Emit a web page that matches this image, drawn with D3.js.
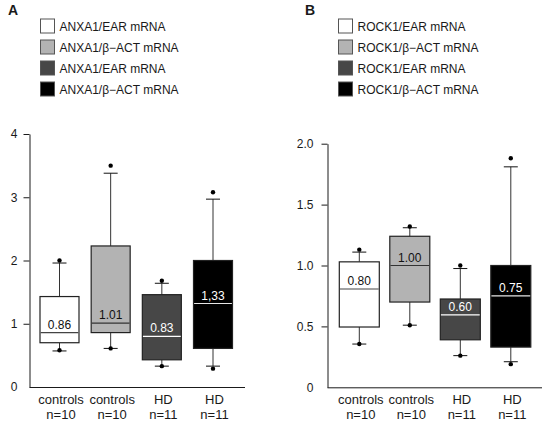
<!DOCTYPE html>
<html>
<head>
<meta charset="utf-8">
<script src="https://cdn.jsdelivr.net/npm/d3@7"></script>
<style>
html,body{margin:0;padding:0;background:#fff;}
svg{display:block;font-family:"Liberation Sans",Arial,sans-serif;}
</style>
</head>
<body>
<svg id="chart" width="550" height="421"></svg>
<script>
// ---- data ----
const categories = ["controls", "controls", "HD", "HD"];
const nLabels = ["n=10", "n=10", "n=11", "n=11"];
const fills = ["#ffffff", "#b3b3b3", "#474747", "#000000"];
const medianColors = ["#444444", "#333333", "#ffffff", "#e6e6e6"];
const labelColors = ["#111111", "#111111", "#ffffff", "#ffffff"];

const legendA = ["ANXA1/EAR mRNA", "ANXA1/\u03b2\u2212ACT mRNA", "ANXA1/EAR mRNA", "ANXA1/\u03b2\u2212ACT mRNA"];
const legendB = ["ROCK1/EAR mRNA", "ROCK1/\u03b2\u2212ACT mRNA", "ROCK1/EAR mRNA", "ROCK1/\u03b2\u2212ACT mRNA"];

const ticksA = [0, 1, 2, 3, 4];
const tickLabelsA = ["0", "1", "2", "3", "4"];
const ticksB = [0, 0.5, 1.0, 1.5, 2.0];
const tickLabelsB = ["0", "0.5", "1.0", "1.5", "2.0"];

const A_whiskerHigh = [1.96, 3.38, 1.64, 2.97];
const A_outlierHigh = [2.00, 3.50, 1.68, 3.08];
const A_q3          = [1.43, 2.23, 1.46, 2.00];
const A_median      = [0.86, 1.01, 0.80, 1.32];
const A_q1          = [0.70, 0.86, 0.43, 0.61];
const A_whiskerLow  = [0.57, 0.61, 0.33, 0.33];
const A_outlierLow  = [0.58, 0.61, 0.33, 0.29];
const A_labels      = ["0.86", "1.01", "0.83", "1,33"];

const B_whiskerHigh = [1.11, 1.31, 0.975, 1.81];
const B_outlierHigh = [1.13, 1.32, 1.00, 1.88];
const B_q3          = [1.03, 1.24, 0.725, 1.00];
const B_median      = [0.807, 1.00, 0.594, 0.75];
const B_q1          = [0.495, 0.70, 0.39, 0.33];
const B_whiskerLow  = [0.355, 0.51, 0.26, 0.21];
const B_outlierLow  = [0.355, 0.51, 0.26, 0.19];
const B_labels      = ["0.80", "1.00", "0.60", "0.75"];

const svg = d3.select("#chart");
const ink = "#1a1a1a";

function panel(cfg) {
  const g = svg.append("g");
  // panel letter
  g.append("text").attr("x", cfg.letterX).attr("y", 15)
    .attr("font-size", 14).attr("font-weight", "bold").attr("fill", ink).text(cfg.letter);
  // legend
  const leg = g.selectAll("g.leg").data(cfg.legend).enter().append("g")
    .attr("transform", (d, i) => `translate(${cfg.legendX},${18.5 + i * 21})`);
  leg.append("rect").attr("x", 0.5).attr("y", 0.5).attr("width", 14).attr("height", 14)
    .attr("fill", (d, i) => fills[i]).attr("stroke", "#555").attr("stroke-width", 1);
  leg.append("text").attr("x", 19.5).attr("y", 12).attr("font-size", 12).attr("fill", ink).text(d => d);

  const y = d3.scaleLinear().domain(cfg.domain).range([cfg.y0, cfg.y1]);
  const x = d3.scalePoint().domain(d3.range(4)).range(cfg.xr);
  const bw = cfg.bw;

  // y axis
  const ax = g.append("g").attr("transform", `translate(${cfg.axisX},0)`)
    .call(d3.axisLeft(y).tickValues(cfg.ticks).tickFormat((d, i) => cfg.tickLabels[i])
      .tickSize(6).tickSizeOuter(0).tickPadding(cfg.tickPad));
  ax.select(".domain").attr("stroke", ink);
  ax.selectAll(".tick line").attr("stroke", ink).filter(d => d === 0).remove();
  ax.selectAll(".tick text").attr("font-size", 12).attr("fill", ink)
    .attr("font-family", "Liberation Sans, Arial, sans-serif");
  // x axis line
  g.append("line").attr("x1", cfg.axisX).attr("x2", cfg.axisEnd)
    .attr("y1", y(0) + 0.5).attr("y2", y(0) + 0.5).attr("stroke", ink);

  const idx = d3.range(4);
  const boxes = g.selectAll("g.box").data(idx).enter().append("g");
  // whiskers
  boxes.append("line").attr("x1", i => x(i)).attr("x2", i => x(i))
    .attr("y1", i => y(cfg.q3[i])).attr("y2", i => y(cfg.wh[i])).attr("stroke", "#333");
  boxes.append("line").attr("x1", i => x(i)).attr("x2", i => x(i))
    .attr("y1", i => y(cfg.q1[i])).attr("y2", i => y(cfg.wl[i])).attr("stroke", "#333");
  boxes.append("line").attr("x1", i => x(i) - 7).attr("x2", i => x(i) + 7)
    .attr("y1", i => y(cfg.wh[i])).attr("y2", i => y(cfg.wh[i])).attr("stroke", "#111");
  boxes.append("line").attr("x1", i => x(i) - 7).attr("x2", i => x(i) + 7)
    .attr("y1", i => y(cfg.wl[i])).attr("y2", i => y(cfg.wl[i])).attr("stroke", "#111");
  // boxes
  boxes.append("rect").attr("x", i => x(i) - bw / 2).attr("width", bw)
    .attr("y", i => y(cfg.q3[i])).attr("height", i => y(cfg.q1[i]) - y(cfg.q3[i]))
    .attr("fill", i => fills[i]).attr("stroke", "#222").attr("stroke-width", 1.2);
  // median
  boxes.append("line").attr("x1", i => x(i) - bw / 2 + 0.6).attr("x2", i => x(i) + bw / 2 - 0.6)
    .attr("y1", i => y(cfg.med[i])).attr("y2", i => y(cfg.med[i]))
    .attr("stroke", i => medianColors[i]).attr("stroke-width", 1.2);
  boxes.append("text").attr("x", i => x(i)).attr("y", i => y(cfg.med[i]) - 4)
    .attr("text-anchor", "middle").attr("font-size", 12).attr("fill", i => labelColors[i])
    .text(i => cfg.labels[i]);
  // outlier dots
  boxes.append("circle").attr("cx", i => x(i)).attr("cy", i => y(cfg.oh[i])).attr("r", 2.2).attr("fill", "#000");
  boxes.append("circle").attr("cx", i => x(i)).attr("cy", i => y(cfg.ol[i])).attr("r", 2.2).attr("fill", "#000");
  // category labels
  boxes.append("text").attr("x", i => x(i) + 1.5).attr("y", 404).attr("text-anchor", "middle")
    .attr("font-size", 13).attr("fill", ink).text(i => categories[i]);
  boxes.append("text").attr("x", i => x(i) + 1.5).attr("y", 419).attr("text-anchor", "middle")
    .attr("font-size", 13).attr("fill", ink).text(i => nLabels[i]);
}

panel({
  letter: "A", letterX: 8, legend: legendA, legendX: 40,
  domain: [0, 4], y0: 387, y1: 134, xr: [59.5, 213], bw: 39,
  axisX: 29.5, axisEnd: 245, ticks: ticksA, tickLabels: tickLabelsA, tickPad: 6,
  wh: A_whiskerHigh, oh: A_outlierHigh, q3: A_q3, med: A_median, q1: A_q1,
  wl: A_whiskerLow, ol: A_outlierLow, labels: A_labels
});
panel({
  letter: "B", letterX: 305, legend: legendB, legendX: 338,
  domain: [0, 2], y0: 387.3, y1: 143.7, xr: [359.3, 510.8], bw: 40,
  axisX: 327.5, axisEnd: 542, ticks: ticksB, tickLabels: tickLabelsB, tickPad: 8,
  wh: B_whiskerHigh, oh: B_outlierHigh, q3: B_q3, med: B_median, q1: B_q1,
  wl: B_whiskerLow, ol: B_outlierLow, labels: B_labels
});
</script>
</body>
</html>
